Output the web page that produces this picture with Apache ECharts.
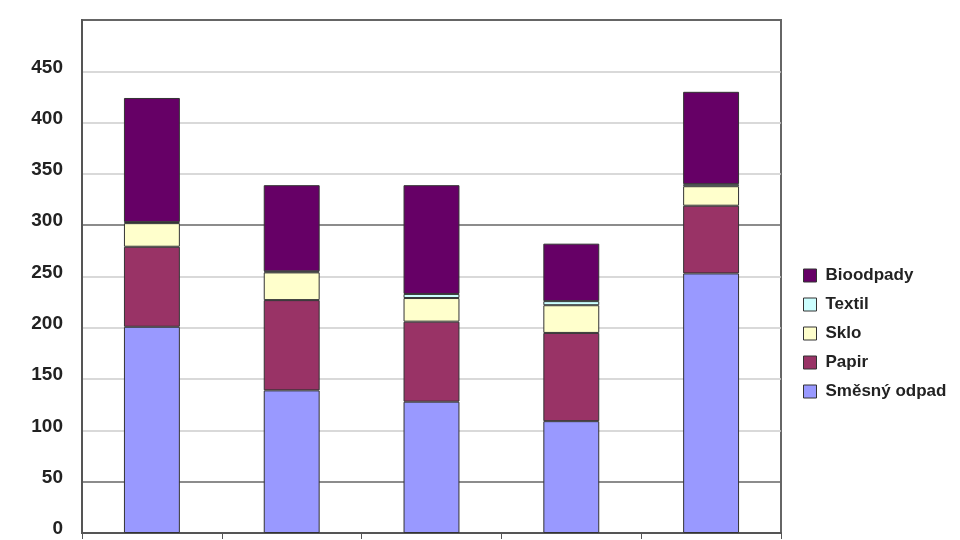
<!DOCTYPE html>
<html>
<head>
<meta charset="utf-8">
<script src="https://cdn.jsdelivr.net/npm/echarts@6/dist/echarts.min.js"></script>
<style>html,body{margin:0;padding:0;background:#fff}#c{width:960px;height:540px}</style>
</head>
<body>
<div id="c"></div>
<script>
const categories = ['1', '2', '3', '4', '5'];
const smesnyOdpad = [201, 139, 128, 109, 253];
const papir = [78, 88, 78, 86, 66];
const sklo = [23, 27, 23, 27, 19];
const textil = [1, 1, 4, 4, 2];
const bioodpady = [121, 84, 106, 56, 90];
const yTicks = [0, 50, 100, 150, 200, 250, 300, 350, 400, 450];

const seriesDefs = [
  { name: 'Směsný odpad', data: smesnyOdpad, color: '#9999ff' },
  { name: 'Papir', data: papir, color: '#993366' },
  { name: 'Sklo', data: sklo, color: '#ffffcc' },
  { name: 'Textil', data: textil, color: '#ccffff' },
  { name: 'Bioodpady', data: bioodpady, color: '#660066' }
];

const chart = echarts.init(document.getElementById('c'), null, { renderer: 'canvas' });
chart.setOption({
  animation: false,
  backgroundColor: '#ffffff',
  grid: {
    left: 82, top: 20, width: 699, height: 513,
    show: true, borderColor: '#666', borderWidth: 2, backgroundColor: 'transparent'
  },
  legend: {
    orient: 'vertical',
    left: 798, top: 262,
    itemWidth: 13, itemHeight: 13, itemGap: 12,
    data: ['Bioodpady', 'Textil', 'Sklo', 'Papir', 'Směsný odpad'],
    icon: 'rect',
    itemStyle: { borderColor: '#333', borderWidth: 1 },
    textStyle: { fontFamily: 'Liberation Sans, Arial', fontWeight: 'bold', fontSize: 17, color: '#222', padding: [0, 0, 0, 4] }
  },
  xAxis: {
    type: 'category',
    data: categories,
    axisLine: { lineStyle: { color: '#555', width: 2 } },
    axisTick: { show: true, length: 6, lineStyle: { color: '#555' } },
    axisLabel: { show: false }
  },
  yAxis: {
    type: 'value',
    min: 0, max: 500, interval: 50,
    axisLine: { show: true, lineStyle: { color: '#555', width: 2 } },
    axisTick: { show: false },
    splitLine: {
      lineStyle: {
        color: ['#555', '#666', '#ccc', '#ccc', '#ccc', '#ccc', '#666', '#ccc', '#ccc', '#ccc', '#666'],
        width: 1.5
      }
    },
    axisLabel: {
      margin: 19,
      fontFamily: 'Liberation Sans, Arial',
      fontWeight: 'bold',
      fontSize: 19,
      color: '#222',
      verticalAlign: 'bottom',
      lineHeight: 8,
      formatter: function (v) { return yTicks.indexOf(v) >= 0 ? String(v) : ''; }
    }
  },
  series: seriesDefs.map(s => ({
    name: s.name,
    type: 'bar',
    stack: 'total',
    data: s.data,
    barWidth: '40%',
    itemStyle: { color: s.color, borderColor: '#333', borderWidth: 1 }
  }))
});
</script>
</body>
</html>
